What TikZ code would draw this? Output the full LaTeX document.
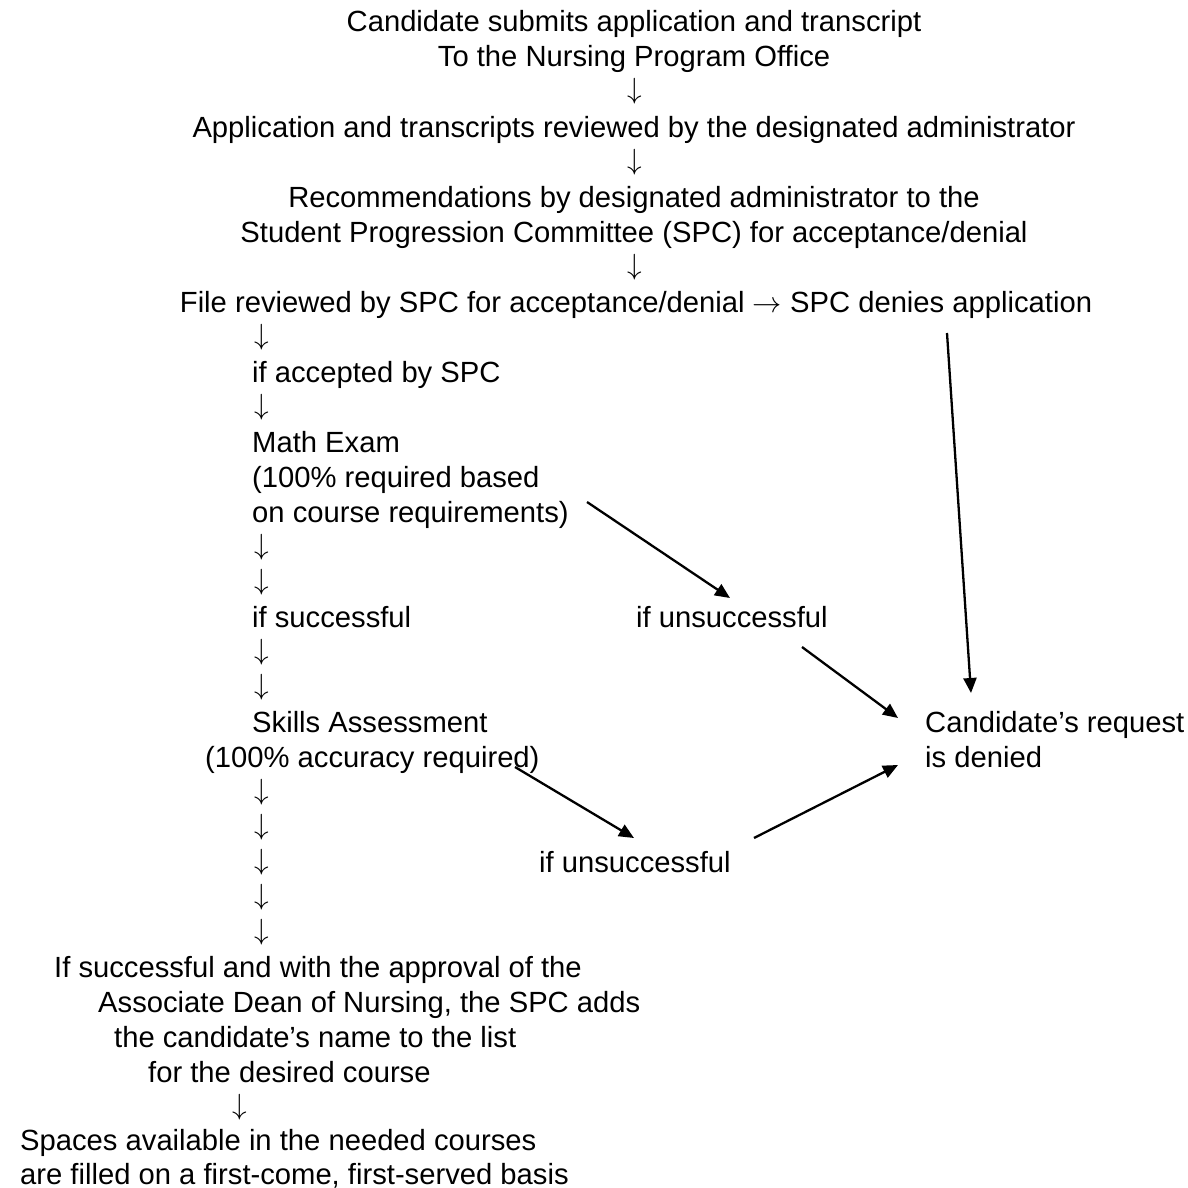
\RequirePackage{fix-cm}
\documentclass[tikz,border=0pt]{standalone}
\usepackage{fontspec}
\setmainfont{Liberation Sans}
\usetikzlibrary{arrows.meta}
\begin{document}
\begin{tikzpicture}[x=1pt,y=-1pt,
  txt/.style={inner sep=0pt, font=\fontsize{29.2}{35}\selectfont},
  ctr/.style={txt, anchor=base},
  lft/.style={txt, anchor=base west},
  dn/.style={txt, anchor=base, yshift=3pt},
  link/.style={line width=2.3pt, -{Triangle[length=15pt,width=13pt]}}]
\fill[white] (0,0) rectangle (1188,1188);
\useasboundingbox (0,0) rectangle (1188,1188);
% top centred block
\node[ctr] (submit1) at (634,32) {Candidate submits application and transcript};
\node[ctr] (submit2) at (634,67) {To the Nursing Program Office};
\node[dn] (d1) at (635,102) {$\downarrow$};
\node[ctr] (review) at (634,137) {Application and transcripts reviewed by the designated administrator};
\node[dn] (d2) at (635,172) {$\downarrow$};
\node[ctr] (rec1) at (634,207) {Recommendations by designated administrator to the};
\node[ctr] (rec2) at (634,242) {Student Progression Committee (SPC) for acceptance/denial};
\node[dn] (d3) at (635,277) {$\downarrow$};
\node[ctr] (file) at (636,312) {File reviewed by SPC for acceptance/denial $\rightarrow$ SPC denies application};
% left column
\node[dn] (d4) at (262,347) {$\downarrow$};
\node[lft] (accepted) at (252,382) {if accepted by SPC};
\node[dn] (d5) at (262,417) {$\downarrow$};
\node[lft] (math1) at (252,452) {Math Exam};
\node[lft] (math2) at (252,487) {(100\% required based};
\node[lft] (math3) at (252,522) {on course requirements)};
\node[dn] (d6) at (262,557) {$\downarrow$};
\node[dn] (d7) at (262,592) {$\downarrow$};
\node[lft] (succ) at (252,627) {if successful};
\node[lft] (unsucc1) at (636,627) {if unsuccessful};
\node[dn] (d8) at (262,662) {$\downarrow$};
\node[dn] (d9) at (262,697) {$\downarrow$};
\node[lft] (skills1) at (252,732) {Skills Assessment};
\node[lft] (skills2) at (205,767) {(100\% accuracy required)};
\node[lft] (denied1) at (925,732) {Candidate’s request};
\node[lft] (denied2) at (925,767) {is denied};
\node[dn] (d10) at (262,802) {$\downarrow$};
\node[dn] (d11) at (262,837) {$\downarrow$};
\node[dn] (d12) at (262,872) {$\downarrow$};
\node[lft] (unsucc2) at (539,872) {if unsuccessful};
\node[dn] (d13) at (262,907) {$\downarrow$};
\node[dn] (d14) at (262,942) {$\downarrow$};
% bottom block
\node[lft] (add1) at (54,977) {If successful and with the approval of the};
\node[lft] (add2) at (98,1012) {Associate Dean of Nursing, the SPC adds};
\node[lft] (add3) at (114,1047) {the candidate’s name to the list};
\node[lft] (add4) at (148,1082) {for the desired course};
\node[dn] (d15) at (240,1117) {$\downarrow$};
\node[lft] (space1) at (20,1150) {Spaces available in the needed courses};
\node[lft] (space2) at (20,1184) {are filled on a first-come, first-served basis};
% connector ends
\coordinate (a1s) at (587,502);
\coordinate (a1e) at (730,598);
\coordinate (a2s) at (802,647);
\coordinate (a2e) at (898,718);
\coordinate (a3s) at (947,333);
\coordinate (a3e) at (971,693);
\coordinate (a4s) at (515,767);
\coordinate (a4e) at (634,838);
\coordinate (a5s) at (754,838);
\coordinate (a5e) at (898,765);
\draw[link] (a1s) -- (a1e);
\draw[link] (a2s) -- (a2e);
\draw[link] (a3s) -- (a3e);
\draw[link] (a4s) -- (a4e);
\draw[link] (a5s) -- (a5e);
\end{tikzpicture}
\end{document}
